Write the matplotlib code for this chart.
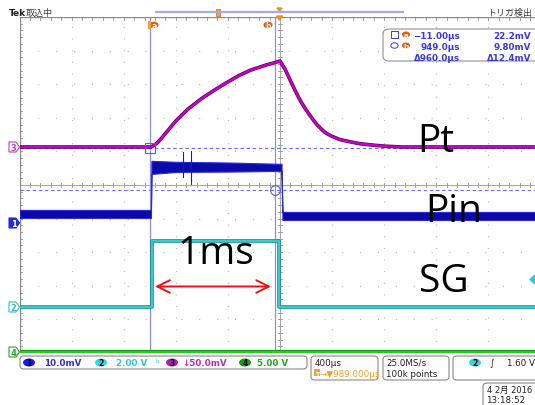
import matplotlib
matplotlib.use("Agg")
import matplotlib.pyplot as plt
from matplotlib.patches import FancyBboxPatch, Rectangle, Ellipse, Polygon, Circle
import numpy as np

plt.rcParams['font.family'] = ['DejaVu Sans', 'Noto Sans CJK JP']

# ---------------- data ----------------
# horizontal: 400 us/div, 10 div, centre = 989 us
t_per_div = 400.0
t_center = 989.0
# vertical: 10 div on screen
ch_scale = {'ch1': 10.0, 'ch2': 2.0, 'ch3': 50.0, 'ch4': 5.0}        # units/div
ch_pos = {'ch1': -1.131, 'ch2': -3.631, 'ch3': 1.131, 'ch4': -4.97}   # div

# Ch3 : Pt (mV)
pt_time_us = [-1011, 0, 40, 74, 130, 189, 280, 382, 480, 574, 670, 766, 882, 940, 989,
              1030, 1074, 1110, 1151, 1190, 1228, 1265, 1305, 1340, 1382, 1450, 1536, 1600, 1690, 1800, 1920, 2989]
pt_mV = [0, 0, 5, 11.9, 25, 38.7, 56, 71.4, 84, 95.2, 106, 114.6, 122, 125, 128,
         115, 96.7, 82, 67, 55, 44.6, 35, 26.8, 21, 16.4, 11, 7.4, 5, 3, 1.2, 0, 0]

# Ch1 : Pin (mV) noise envelope
pin_time_us = [-1011, -2, 2, 200, 600, 1000, 1008, 2989]
pin_upper_mV = [3.9, 3.9, 18.5, 18.2, 18.0, 17.6, 3.3, 3.3]
pin_lower_mV = [1.5, 1.5, 14.6, 15.2, 15.3, 15.5, 0.9, 0.9]
pin_spike_time_us = [243, 305]
pin_spike_hi_mV = [21.1, 21.4]
pin_spike_lo_mV = [13.7, 11.6]

# Ch2 : SG (V)
sg_time_us = [-1011, 5, 5, 981, 981, 2989]
sg_V = [0, 0, 3.9, 3.9, 0, 0]

# Ch4 (V)
ch4_time_us = [-1011, 2989]
ch4_V = [0, 0]

# cursors
cursor_t_us = [-11.0, 949.0]
cursor_v_mV = [22.2, 9.80]
trig_level_V = 1.60

labels = ['Pt', 'Pin', 'SG']

# ---------------- figure ----------------
W, H = 535, 406
fig = plt.figure(figsize=(W / 100, H / 100), dpi=100)
fig.patch.set_facecolor('white')

L_px, R_px, T_px, B_px = 19.5, 540.5, 18.0, 354.0
ax = fig.add_axes([L_px / W, 1 - B_px / H, (R_px - L_px) / W, (B_px - T_px) / H])
x0 = t_center - 5 * t_per_div
x1 = t_center + 5 * t_per_div
ax.set_xlim(x0, x1)
ax.set_ylim(-5, 5)
ax.axis('off')


def dv(vals, ch):
    return np.asarray(vals, float) / ch_scale[ch] + ch_pos[ch]


def P(x, y):
    return (x / W, 1 - y / H)


PX = 0.72  # points per pixel

# grid dots
grid_c = '#b4b4b4'
for k in range(1, 10):
    t = x0 + k * t_per_div
    if k == 5:
        continue
    ax.plot([t, t], [-5, 5], color=grid_c, lw=0.9, ls=(0, (0.8, 8.5)), zorder=1)
for k in range(-4, 5):
    if k == 0:
        continue
    ax.plot([x0, x1], [k, k], color=grid_c, lw=0.9, ls=(0, (0.8, 13.5)), zorder=1)

# centre cross lines with ticks
ax.plot([t_center, t_center], [-5, 5], color='#a8a8a8', lw=0.8, zorder=1)
ax.plot([x0, x1], [0, 0], color='#a8a8a8', lw=0.8, zorder=1)
for i in range(-25, 26):
    y = i / 5
    ax.plot([t_center - 12, t_center + 12], [y, y], color='#a0a0a0', lw=0.7, zorder=1)
for i in range(0, 51):
    t = x0 + i * t_per_div / 5
    ax.plot([t, t], [-0.07, 0.07], color='#a0a0a0', lw=0.7, zorder=1)
    ax.plot([t, t], [5, 4.9], color='#a0a0a0', lw=0.7, zorder=1)
for i in range(-25, 26):
    y = i / 5
    ax.plot([x0, x0 + 22], [y, y], color='#a0a0a0', lw=0.7, zorder=1)
# border
ax.plot([x0, x0], [-5, 5], color='#8c8c8c', lw=1.0, zorder=2)
ax.plot([x0, x1], [5, 5], color='#8c8c8c', lw=1.0, zorder=2)

# cursors
for t in cursor_t_us:
    ax.plot([t, t], [-5, 5], color='#8c8cf5', lw=0.9, zorder=3)
for v in cursor_v_mV:
    y = dv(v, 'ch1')
    ax.plot([x0, x1], [y, y], color='#6a6af0', lw=0.8, ls=(0, (3, 2.5)), zorder=3)

# Ch4 green
ax.plot(ch4_time_us, dv(ch4_V, 'ch4'), color='#0a9a0a', lw=4.2 * PX, zorder=4, solid_capstyle='butt')
ax.plot(ch4_time_us, dv(ch4_V, 'ch4'), color='#22d022', lw=2.2 * PX, zorder=4, solid_capstyle='butt')

# Ch2 SG
ax.plot(sg_time_us, dv(sg_V, 'ch2'), color='#0e8e8e', lw=3.6 * PX, zorder=5)
ax.plot(sg_time_us, dv(sg_V, 'ch2'), color='#38caca', lw=2.0 * PX, zorder=5)

# Ch1 Pin
ax.fill_between(pin_time_us, dv(pin_upper_mV, 'ch1'), dv(pin_lower_mV, 'ch1'),
                color='#0a0aa8', lw=0.8, edgecolor='#2a2ad8', zorder=6)
for t, hi, lo in zip(pin_spike_time_us, pin_spike_hi_mV, pin_spike_lo_mV):
    ax.plot([t, t], [dv(lo, 'ch1'), dv(hi, 'ch1')], color='#1a1ab8', lw=0.8, zorder=6)

# Ch3 Pt
ax.plot(pt_time_us, dv(pt_mV, 'ch3'), color='#5a005a', lw=3.6 * PX, zorder=7, solid_joinstyle='round')
ax.plot(pt_time_us, dv(pt_mV, 'ch3'), color='#c800c8', lw=2.2 * PX, zorder=7, solid_joinstyle='round')

# cursor markers on trace
ax.plot([cursor_t_us[0]], [dv(cursor_v_mV[0], 'ch1')], marker='s', ms=7, mfc='none', mec='#5a5af0', mew=0.8, zorder=8)
ax.plot([cursor_t_us[1]], [dv(cursor_v_mV[1], 'ch1')], marker='o', ms=7, mfc='none', mec='#5a5af0', mew=0.8, zorder=8)

# trigger level marker at right edge
fig.patches.append(Polygon([P(535, 276), P(535, 285), P(530, 280.5)], closed=True,
                           transform=fig.transFigure, color='#30c8d8', zorder=10))

# ---- big annotation texts ----
big_font = ['Open Sans', 'DejaVu Sans']
fig.text(*P(417, 152), labels[0], fontsize=28, family=big_font, color='black', va='baseline', ha='left')
fig.text(*P(425, 222), labels[1], fontsize=28, family=big_font, color='black', va='baseline', ha='left')
fig.text(*P(419, 292), labels[2], fontsize=28, family=big_font, color='black', va='baseline', ha='left')
fig.text(*P(177, 264), '1ms', fontsize=28, family=big_font, color='black', va='baseline', ha='left')
ax.annotate('', xy=(cursor_t_us[0] + 20, -3.02), xytext=(cursor_t_us[1] - 8, -3.02),
            arrowprops=dict(arrowstyle='<->,head_length=0.9,head_width=0.45', color='#f01010', lw=1.4),
            zorder=9)

# ---- channel markers left ----
def chbox(y, txt, col, filled=False):
    pts = [P(9, y - 5), P(16, y - 5), P(19.5, y), P(16, y + 5), P(9, y + 5)]
    fig.patches.append(Polygon(pts, closed=True, transform=fig.transFigure,
                               facecolor=col if filled else 'white', edgecolor=col, lw=0.8, zorder=10))
    fig.text(*P(13.5, y + 0.5), txt, fontsize=6, color='white' if filled else col,
             ha='center', va='center', zorder=11, fontweight='bold')


chbox(148, '3', '#c040c0')
chbox(224, '1', '#2030d0', filled=True)
chbox(308, '2', '#30c0c0')
chbox(353, '4', '#30a030')

# ---- top header ----
fig.text(*P(9, 16), 'Tek', fontsize=6.5, fontweight='bold', color='#202020', va='baseline')
fig.text(*P(26, 16), '取込中', fontsize=6.5, family=['Noto Sans CJK JP'], color='#404040', va='baseline')
fig.text(*P(532, 16), 'トリガ検出', fontsize=6.5, family=['Noto Sans CJK JP'], color='#404040', va='baseline', ha='right')
fig.lines.append(plt.Line2D([156 / W, 403 / W], [1 - 13 / H, 1 - 13 / H], transform=fig.transFigure,
                            color='#a8a8f0', lw=1.6))
fig.patches.append(Rectangle(P(216, 17), 4 / W, 7 / H, transform=fig.transFigure,
                             facecolor='#f5a030', edgecolor='#c07010', lw=0.5))
fig.patches.append(Polygon([P(277, 9), P(282, 9), P(279.5, 12.5)], closed=True,
                           transform=fig.transFigure, color='#f09020'))
fig.patches.append(Polygon([P(276.5, 17), P(282.5, 17), P(279.5, 21)], closed=True,
                           transform=fig.transFigure, color='#f09020'))

# cursor labels a/b
for (cx, lab) in [(154, 'a'), (268, 'b')]:
    fig.patches.append(Circle(P(cx, 26), 4.5 / W, transform=fig.transFigure,
                              facecolor='#f05a10', edgecolor='none', zorder=10))
    fig.text(*P(cx, 26.5), lab, fontsize=5.5, color='white', ha='center', va='center', fontweight='bold', zorder=11)
fig.patches.append(Rectangle(P(148, 30), 3 / W, 8 / H, transform=fig.transFigure, facecolor='#f5a030', zorder=10))

# cursor readout box
fig.patches.append(FancyBboxPatch(P(383, 62), (540 - 383) / W, (62 - 30) / H,
                                  boxstyle='round,pad=0,rounding_size=0.012', transform=fig.transFigure,
                                  facecolor='white', edgecolor='#909090', lw=0.8, zorder=9))
bl = '#3838e8'
fs = 6.3
fig.patches.append(Rectangle(P(391, 39), 7 / W, 7 / H, transform=fig.transFigure, facecolor='none', edgecolor=bl, lw=0.7, zorder=10))
fig.patches.append(Circle(P(394.5, 46.5), 3.6 / W, transform=fig.transFigure, facecolor='none', edgecolor=bl, lw=0.7, zorder=10))
for (cy, lab) in [(35.5, 'a'), (46.5, 'b')]:
    fig.patches.append(Circle(P(406, cy), 4 / W, transform=fig.transFigure, facecolor='#f05a10', zorder=10))
    fig.text(*P(406, cy + 0.5), lab, fontsize=5, color='white', ha='center', va='center', fontweight='bold', zorder=11)
fig.text(*P(460, 39), '\u221211.00\u00b5s', fontsize=fs, color=bl, ha='right', va='baseline', fontweight='bold', zorder=11)
fig.text(*P(460, 50), '949.0\u00b5s', fontsize=fs, color=bl, ha='right', va='baseline', fontweight='bold', zorder=11)
fig.text(*P(460, 61), '\u0394960.0\u00b5s', fontsize=fs, color=bl, ha='right', va='baseline', fontweight='bold', zorder=11)
fig.text(*P(531, 39), '22.2mV', fontsize=fs, color=bl, ha='right', va='baseline', fontweight='bold', zorder=11)
fig.text(*P(531, 50), '9.80mV', fontsize=fs, color=bl, ha='right', va='baseline', fontweight='bold', zorder=11)
fig.text(*P(531, 61), '\u039412.4mV', fontsize=fs, color=bl, ha='right', va='baseline', fontweight='bold', zorder=11)

# ---- bottom status bar ----
def rbox(x0_, y0_, x1_, y1_):
    fig.patches.append(FancyBboxPatch(P(x0_, y1_), (x1_ - x0_) / W, (y1_ - y0_) / H,
                                      boxstyle='round,pad=0,rounding_size=0.008', transform=fig.transFigure,
                                      facecolor='white', edgecolor='#8a8a8a', lw=0.8, zorder=9))


rbox(20, 357, 307, 370)
rbox(311, 357, 378, 381)
rbox(383, 357, 449, 381)
rbox(453, 357, 545, 381)
rbox(483, 384, 545, 410)


def pill(cx, cy, txt, col, tcol='black'):
    fig.patches.append(Ellipse(P(cx, cy), 12 / W, 8 / H, transform=fig.transFigure, facecolor=col, zorder=10))
    fig.text(*P(cx, cy + 0.5), txt, fontsize=5.5, color=tcol, ha='center', va='center', fontweight='bold', zorder=11)


sfs = 6.3
pill(29, 363.5, '1', '#1a1ae0', 'black')
fig.text(*P(44, 366.5), '10.0mV', fontsize=sfs, color='#3030d8', va='baseline', fontweight='bold', zorder=11)
pill(101, 363.5, '2', '#30d8e0')
fig.text(*P(116, 366.5), '2.00 V', fontsize=sfs, color='#30c8d0', va='baseline', fontweight='bold', zorder=11)
fig.text(*P(156, 366.5), '\u1d47', fontsize=sfs, color='#30c8d0', va='baseline', zorder=11)
pill(172, 363.5, '3', '#b020b0')
fig.text(*P(182, 366.5), '\u219350.0mV', fontsize=sfs, color='#b030b0', va='baseline', fontweight='bold', zorder=11)
pill(245, 363.5, '4', '#10a010')
fig.text(*P(257, 366.5), '5.00 V', fontsize=sfs, color='#20a820', va='baseline', fontweight='bold', zorder=11)

fig.text(*P(315, 366), '400\u00b5s', fontsize=sfs, color='#202020', va='baseline', zorder=11)
fig.patches.append(Rectangle(P(314, 377), 6 / W, 7 / H, transform=fig.transFigure, facecolor='#f5a030', zorder=10))
fig.text(*P(317, 376), 'T', fontsize=4.5, color='white', ha='center', va='baseline', fontweight='bold', zorder=11)
fig.text(*P(320, 377), '\u2192\u25bc989.000\u00b5s', fontsize=sfs, color='#f0a030', va='baseline', zorder=11)
fig.text(*P(386, 366), '25.0MS/s', fontsize=sfs, color='#202020', va='baseline', zorder=11)
fig.text(*P(386, 377), '100k points', fontsize=sfs, color='#202020', va='baseline', zorder=11)
pill(475, 363.5, '2', '#30d8e0')
fig.text(*P(490, 366.5), '\u222b', fontsize=sfs, color='#202020', va='baseline', zorder=11)
fig.text(*P(507, 366.5), '1.60 V', fontsize=sfs, color='#202020', va='baseline', zorder=11)
fig.text(*P(487, 393), '4 2\u6708 2016', fontsize=6.0, family=['DejaVu Sans', 'Noto Sans CJK JP'],
         color='#202020', va='baseline', zorder=11)
fig.text(*P(486, 403), '13:18:52', fontsize=sfs, color='#202020', va='baseline', zorder=11)

fig.savefig('out.png', dpi=100)
